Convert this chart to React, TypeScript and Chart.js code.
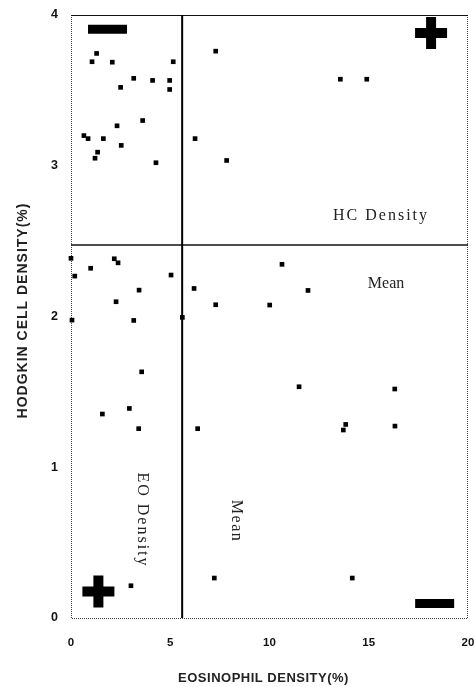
import React, { useEffect, useRef } from "react";
import { Chart, registerables } from "chart.js";

Chart.register(...registerables);

// Eosinophil density (%) for each case
const eosinophilX = [
  1.29, 1.06, 2.08, 5.15, 3.16, 4.11, 4.97, 4.97, 2.5, 3.61, 2.32, 0.65, 0.86, 1.63, 2.53, 1.34, 1.21, 4.28,
  7.29, 6.25, 7.84, 13.57, 14.9,
  0.0, 0.19, 0.99, 2.18, 2.37, 5.04, 3.43, 6.2, 2.27, 7.29, 0.05, 3.16, 5.61, 3.56, 2.94, 1.58, 3.41, 6.38,
  10.63, 11.94, 10.01, 11.49, 16.31, 13.72, 13.84, 16.32,
  3.02, 7.22, 14.17,
];
// Hodgkin cell density (%) for each case
const hodgkinY = [
  3.745, 3.69, 3.687, 3.69, 3.58, 3.566, 3.566, 3.506, 3.52, 3.3, 3.265, 3.2, 3.18, 3.18, 3.135, 3.09, 3.05, 3.02,
  3.76, 3.18, 3.035, 3.574, 3.574,
  2.386, 2.268, 2.32, 2.383, 2.356, 2.275, 2.175, 2.186, 2.098, 2.078, 1.976, 1.974, 1.994, 1.633, 1.39, 1.353, 1.256, 1.256,
  2.346, 2.173, 2.076, 1.534, 1.519, 1.247, 1.284, 1.273,
  0.214, 0.265, 0.265,
];

// Quadrant symbols (+ high, − low)
const plusX = [18.14, 1.38];
const plusY = [3.88, 0.175];
const minusX = [1.84, 18.32];
const minusY = [3.906, 0.096];

// Means
const eoMean = 5.6;
const hcMean = 2.475;

// Axis ranges / ticks
const xTicks = [0, 5, 10, 15, 20];
const yTicks = [0, 1, 2, 3, 4];
const xTitle = "EOSINOPHIL DENSITY(%)";
const yTitle = "HODGKIN CELL DENSITY(%)";

// Annotations (text, data x, data y, rotated)
const noteText = ["HC Density", "Mean", "EO Density", "Mean"];
const noteX = [15.62, 15.87, 3.58, 8.31];
const noteY = [2.666, 2.215, 0.65, 0.643];
const noteRotated = [false, false, true, true];

const points = eosinophilX.map((x, i) => ({ x, y: hodgkinY[i] }));

const SANS = "'Liberation Sans', Arial, sans-serif";

const framePlugin = {
  id: "frame",
  beforeDatasetsDraw(chart: any) {
    const { ctx, chartArea: a } = chart;
    ctx.save();
    ctx.strokeStyle = "#444";
    ctx.lineWidth = 1;
    ctx.setLineDash([1, 1]);
    ctx.beginPath();
    ctx.moveTo(a.left + 0.5, a.top);
    ctx.lineTo(a.left + 0.5, a.bottom + 0.5);
    ctx.lineTo(a.right - 0.5, a.bottom + 0.5);
    ctx.lineTo(a.right - 0.5, a.top);
    ctx.stroke();
    ctx.setLineDash([]);
    ctx.strokeStyle = "#111";
    ctx.beginPath();
    ctx.moveTo(a.left, a.top + 0.5);
    ctx.lineTo(a.right, a.top + 0.5);
    ctx.stroke();
    ctx.restore();
  },
  afterDatasetsDraw(chart: any) {
    const { ctx, scales } = chart;
    ctx.save();
    ctx.fillStyle = "#222";
    ctx.font = "16px 'Liberation Serif', 'Times New Roman', serif";
    ctx.textAlign = "center";
    ctx.textBaseline = "middle";
    noteText.forEach((t, i) => {
      const px = scales.x.getPixelForValue(noteX[i]);
      const py = scales.y.getPixelForValue(noteY[i]);
      ctx.save();
      ctx.translate(px, py);
      if (noteRotated[i]) ctx.rotate(Math.PI / 2);
      (ctx as any).letterSpacing = t === "Mean" ? (noteRotated[i] ? "1.5px" : "0px") : "2px";
      ctx.fillText(t, 0, 0);
      ctx.restore();
    });
    ctx.restore();
  },
  afterDraw(chart: any) {
    const { ctx, chartArea: a } = chart;
    ctx.save();
    ctx.fillStyle = "#222";
    ctx.textAlign = "center";
    ctx.textBaseline = "middle";
    // x title
    ctx.save();
    ctx.font = `bold 13px ${SANS}`;
    (ctx as any).letterSpacing = "0.5px";
    ctx.fillText(xTitle, (a.left + a.right) / 2 - 6, chart.height - 9);
    ctx.restore();
    // y title
    ctx.save();
    ctx.font = `bold 14px ${SANS}`;
    (ctx as any).letterSpacing = "1px";
    ctx.translate(23, (a.top + a.bottom) / 2 - 6);
    ctx.rotate(-Math.PI / 2);
    ctx.fillText(yTitle, 0, 0);
    ctx.restore();
    ctx.restore();
  },
};

export default function App() {
  const ref = useRef<HTMLCanvasElement>(null);
  useEffect(() => {
    if (!ref.current) return;
    const chart = new Chart(ref.current, {
      type: "scatter",
      data: {
        datasets: [
          {
            type: "line",
            data: [
              { x: eoMean, y: yTicks[0] },
              { x: eoMean, y: yTicks[yTicks.length - 1] },
            ],
            borderColor: "#000",
            borderWidth: 2,
            pointRadius: 0,
            fill: false,
          } as any,
          {
            type: "line",
            data: [
              { x: xTicks[0], y: hcMean },
              { x: xTicks[xTicks.length - 1], y: hcMean },
            ],
            borderColor: "#111",
            borderWidth: 1.5,
            pointRadius: 0,
            fill: false,
          } as any,
          {
            data: points,
            pointStyle: "rect",
            pointRadius: 3.3,
            backgroundColor: "#000",
            borderWidth: 0,
            clip: 8,
          } as any,
          {
            data: plusX.map((x, i) => ({ x, y: plusY[i] })),
            pointStyle: "cross",
            pointRadius: 16,
            borderColor: "#000",
            borderWidth: 10,
          } as any,
          {
            data: minusX.map((x, i) => ({ x, y: minusY[i] })),
            pointStyle: "line",
            pointRadius: 19.5,
            borderColor: "#000",
            borderWidth: 9,
          } as any,
        ],
      },
      options: {
        animation: false,
        responsive: false,
        events: [],
        layout: { autoPadding: false, padding: { top: 15, right: 7, left: 0, bottom: 0 } },
        plugins: { legend: { display: false }, tooltip: { enabled: false } },
        scales: {
          x: {
            type: "linear",
            min: xTicks[0],
            max: xTicks[xTicks.length - 1],
            grid: { display: false, drawTicks: false },
            border: { display: false },
            afterBuildTicks: (s: any) => {
              s.ticks = xTicks.map((v) => ({ value: v }));
            },
            afterFit: (s: any) => {
              s.height = 69;
              s.paddingLeft = 0;
              s.paddingRight = 0;
            },
            ticks: {
              color: "#111",
              padding: 18,
              font: { family: SANS, size: 11.5, weight: "bold" },
            },
          },
          y: {
            type: "linear",
            min: yTicks[0],
            max: yTicks[yTicks.length - 1],
            grid: { display: false, drawTicks: false },
            border: { display: false },
            afterBuildTicks: (s: any) => {
              s.ticks = yTicks.map((v) => ({ value: v }));
            },
            afterFit: (s: any) => {
              s.width = 71;
              s.paddingTop = 0;
              s.paddingBottom = 0;
            },
            ticks: {
              color: "#111",
              padding: 13,
              font: { family: SANS, size: 12.5, weight: "bold" },
            },
          },
        },
      },
      plugins: [framePlugin],
    });
    return () => chart.destroy();
  }, []);
  return (
    <div style={{ position: "absolute", left: 0, top: 0, width: 475, height: 687, background: "#fff" }}>
      <canvas ref={ref} width={475} height={687} />
    </div>
  );
}
